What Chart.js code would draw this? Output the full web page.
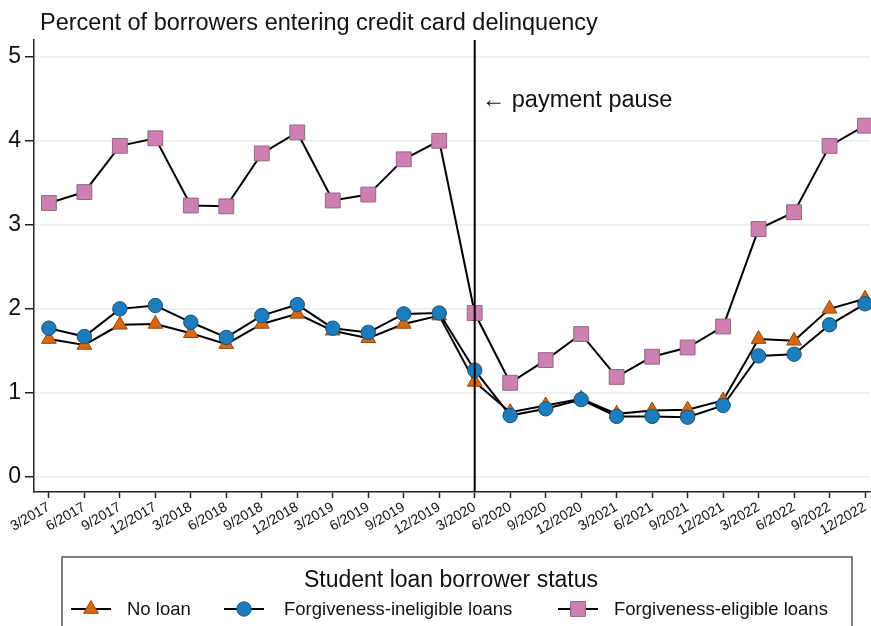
<!DOCTYPE html>
<html>
<head>
<meta charset="utf-8">
<script src="https://cdn.jsdelivr.net/npm/chart.js@4.4.1/dist/chart.umd.min.js"></script>
<style>
  html, body { margin: 0; padding: 0; background: #fff; }
  canvas { display: block; }
</style>
</head>
<body>
<canvas id="chart" width="871" height="626"></canvas>
<script>
// quarter labels
const quarters = ['3/2017', '6/2017', '9/2017', '12/2017', '3/2018', '6/2018', '9/2018', '12/2018',
  '3/2019', '6/2019', '9/2019', '12/2019', '3/2020', '6/2020', '9/2020', '12/2020',
  '3/2021', '6/2021', '9/2021', '12/2021', '3/2022', '6/2022', '9/2022', '12/2022'];

// percent entering credit card delinquency
const noLoan = [1.64, 1.57, 1.81, 1.82, 1.71, 1.58, 1.82, 1.94, 1.74, 1.65, 1.82, 1.92,
  1.13, 0.77, 0.85, 0.93, 0.75, 0.79, 0.80, 0.91, 1.64, 1.62, 2.00, 2.12];
const ineligible = [1.77, 1.67, 2.00, 2.04, 1.84, 1.66, 1.92, 2.05, 1.77, 1.72, 1.94, 1.95,
  1.27, 0.73, 0.81, 0.92, 0.72, 0.72, 0.71, 0.85, 1.44, 1.46, 1.81, 2.06];
const eligible = [3.26, 3.39, 3.94, 4.03, 3.23, 3.22, 3.85, 4.10, 3.29, 3.36, 3.78, 4.00,
  1.95, 1.12, 1.39, 1.70, 1.19, 1.43, 1.54, 1.79, 2.95, 3.15, 3.94, 4.18];

const yTicks = [0, 1, 2, 3, 4, 5];
const pauseIndex = 12;

const FONT = '"Liberation Sans", Arial, Helvetica, sans-serif';

const series = [
  { label: 'No loan', data: noLoan, style: 'triangle', radius: 8.5, fill: '#d9670c', edge: '#8a4a1c', order: 3 },
  { label: 'Forgiveness-ineligible loans', data: ineligible, style: 'circle', radius: 7.2, fill: '#1b7dbd', edge: '#1d4f6e', order: 2 },
  { label: 'Forgiveness-eligible loans', data: eligible, style: 'rect', radius: 10.5, fill: '#cf7fb0', edge: '#8e6a80', order: 1 }
];

// legend item positions: line start, text start
const legendItems = [[71, 127], [224, 284], [558, 614]];

// vertical line + title + annotation + legend box
const decorations = {
  id: 'decorations',
  afterDatasetsDraw(chart) {
    const { ctx, chartArea, scales } = chart;
    const x = scales.x.getPixelForValue(pauseIndex);
    ctx.save();
    ctx.strokeStyle = '#000';
    ctx.lineWidth = 2;
    ctx.beginPath();
    ctx.moveTo(x, chartArea.top);
    ctx.lineTo(x, chartArea.bottom);
    ctx.stroke();
    ctx.fillStyle = '#111';
    ctx.font = '23.5px ' + FONT;
    ctx.textBaseline = 'alphabetic';
    ctx.textAlign = 'left';
    ctx.fillText('\u2190 payment pause', x + 7, 107);
    ctx.restore();
  },
  afterDraw(chart) {
    const { ctx } = chart;
    ctx.save();
    ctx.fillStyle = '#111';
    ctx.font = '23.5px ' + FONT;
    ctx.textBaseline = 'alphabetic';
    ctx.textAlign = 'left';
    ctx.fillText('Percent of borrowers entering credit card delinquency', 40, 30);

    ctx.strokeStyle = '#555';
    ctx.lineWidth = 1.5;
    ctx.strokeRect(62, 557, 790, 90);
    ctx.font = '23px ' + FONT;
    ctx.textAlign = 'center';
    ctx.fillText('Student loan borrower status', 451, 587);

    ctx.font = '18.5px ' + FONT;
    ctx.textAlign = 'left';
    ctx.textBaseline = 'middle';
    series.forEach((s, i) => {
      const [x0, tx] = legendItems[i];
      const y = 609;
      ctx.strokeStyle = '#000';
      ctx.lineWidth = 2;
      ctx.beginPath();
      ctx.moveTo(x0, y);
      ctx.lineTo(x0 + 40, y);
      ctx.stroke();
      ctx.fillStyle = s.fill;
      ctx.strokeStyle = s.edge;
      ctx.lineWidth = 1;
      Chart.helpers.drawPoint(ctx, { pointStyle: s.style, radius: s.radius, borderWidth: 1, rotation: 0 }, x0 + 20, y);
      ctx.fillStyle = '#111';
      ctx.fillText(s.label, tx, y + 1);
    });
    ctx.restore();
  }
};

new Chart(document.getElementById('chart'), {
  type: 'line',
  data: {
    datasets: series.map(s => ({
      label: s.label,
      data: s.data.map((v, i) => ({ x: i, y: v })),
      borderColor: '#000',
      borderWidth: 2,
      pointStyle: s.style,
      pointRadius: s.radius,
      pointBackgroundColor: s.fill,
      pointBorderColor: s.edge,
      pointBorderWidth: 1,
      tension: 0,
      clip: false,
      order: s.order
    }))
  },
  options: {
    responsive: false,
    animation: false,
    devicePixelRatio: 1,
    layout: { autoPadding: false, padding: { top: 40, right: 1, left: 0, bottom: 0 } },
    plugins: {
      legend: { display: false },
      title: { display: false },
      tooltip: { enabled: false }
    },
    scales: {
      x: {
        type: 'linear',
        min: -0.42,
        max: 23.14,
        afterFit: s => { s.height = 134; s.paddingLeft = 0; s.paddingRight = 0; },
        afterBuildTicks: s => { s.ticks = quarters.map((q, i) => ({ value: i })); },
        grid: { display: true, drawOnChartArea: false, tickLength: 6, tickColor: '#222', tickWidth: 1.5 },
        border: { color: '#222', width: 1.5 },
        ticks: {
          autoSkip: false,
          maxRotation: 30,
          minRotation: 30,
          padding: 1,
          color: '#111',
          font: { family: FONT, size: 14 },
          callback: v => quarters[v]
        }
      },
      y: {
        min: -0.18,
        max: 5.2,
        afterFit: s => { s.width = 34; },
        afterBuildTicks: s => { s.ticks = yTicks.map(v => ({ value: v })); },
        grid: { color: '#e6eef1', lineWidth: 1.5, tickLength: 9, tickColor: '#222', tickWidth: 1.5 },
        border: { color: '#222', width: 1.5 },
        ticks: {
          padding: 4,
          color: '#111',
          font: { family: FONT, size: 23 }
        }
      }
    }
  },
  plugins: [decorations]
});
</script>
</body>
</html>
